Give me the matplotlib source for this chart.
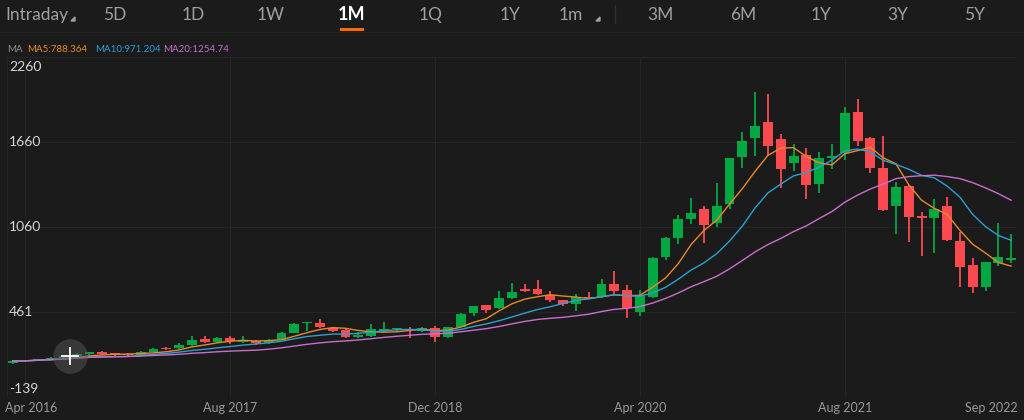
import pandas as pd
import matplotlib
matplotlib.use('Agg')
import matplotlib.pyplot as plt
from matplotlib.patches import Rectangle

# monthly candles, Mar 2016 .. Sep 2022
months = pd.date_range('2016-03-01', periods=79, freq='MS')

opens = [100, 115, 118, 127, 135, 145, 165, 180, 165, 163, 160, 180, 210, 205, 225, 268,
         250, 280, 250, 257, 240, 265, 315, 380, 380, 350, 333, 287, 292, 328, 338, 340,
         330, 350, 283, 358, 455, 507, 486, 562, 620, 620, 583, 545, 518, 570, 568, 660,
         615, 462, 570, 846, 980, 1120, 1190, 1090, 1222, 1552, 1686, 1803, 1680, 1514, 1572, 1366,
         1549, 1580, 1870, 1686, 1478, 1208, 1350, 1140, 1126, 1208, 963, 792, 640, 805, 830]
highs = [120, 122, 132, 140, 155, 168, 182, 188, 172, 168, 184, 207, 215, 240, 293, 290,
         284, 290, 290, 262, 268, 320, 385, 388, 410, 355, 338, 318, 375, 392, 350, 356,
         352, 360, 358, 452, 504, 510, 606, 662, 658, 690, 606, 548, 590, 600, 691, 750,
         650, 615, 850, 990, 1145, 1262, 1210, 1368, 1550, 1728, 2011, 1999, 1716, 1644, 1616, 1587,
         1646, 1905, 1964, 1695, 1705, 1380, 1356, 1168, 1258, 1270, 1027, 839, 812, 1086, 1008]
lows = [95, 110, 115, 122, 130, 140, 160, 158, 152, 150, 156, 176, 196, 200, 220, 240,
        245, 232, 245, 228, 235, 260, 310, 325, 350, 322, 280, 278, 285, 320, 320, 276,
        318, 250, 278, 352, 432, 455, 480, 550, 605, 580, 530, 505, 465, 550, 560, 590,
        415, 432, 560, 830, 940, 1085, 950, 1060, 1190, 1479, 1561, 1568, 1333, 1457, 1258, 1298,
        1467, 1533, 1634, 1444, 1175, 1010, 952, 855, 874, 960, 634, 596, 610, 785, 808]
closes = [115, 118, 128, 137, 150, 162, 178, 162, 160, 158, 180, 203, 200, 225, 265, 247,
          280, 255, 258, 240, 262, 310, 378, 385, 352, 327, 287, 300, 338, 340, 340, 333,
          348, 287, 355, 448, 500, 478, 563, 603, 612, 588, 546, 517, 567, 558, 658, 610,
          487, 580, 845, 980, 1120, 1160, 1075, 1208, 1545, 1667, 1773, 1635, 1467, 1561, 1355, 1549,
          1560, 1862, 1670, 1474, 1180, 1345, 1128, 1122, 1185, 968, 780, 640, 812, 850, 842]

y_ticks = [2260, 1660, 1060, 461, -139]
x_tick_labels = {'Apr 2016': 1, 'Aug 2017': 17, 'Dec 2018': 33, 'Apr 2020': 49, 'Aug 2021': 65}
tabs = ['Intraday', '5D', '1D', '1W', '1M', '1Q', '1Y', '1m', '3M', '6M', '1Y', '3Y', '5Y']
tab_x = [5, 115, 193, 271, 352, 431, 510, 571, 661, 743, 821, 898, 975]
ma_texts = ['MA5:788.364', 'MA10:971.204', 'MA20:1254.74']

BG = '#1b1b1b'
UP = '#03a843'
DOWN = '#fb4a4f'
MA_COLORS = ['#e8892a', '#2b9fd2', '#c96ecf']
GRID = '#252525'

df = pd.DataFrame({'open': opens, 'high': highs, 'low': lows, 'close': closes}, index=months)
ma5 = df['close'].rolling(5, min_periods=1).mean()
ma10 = df['close'].rolling(10, min_periods=1).mean()
ma20 = df['close'].rolling(20, min_periods=1).mean()

fig = plt.figure(figsize=(10.24, 4.2), dpi=100, facecolor=BG)
W, H = 1024, 420

ax = fig.add_axes([7 / W, 23 / H, 1010 / W, 340 / H], facecolor=BG)
ax.set_xlim(-0.445, 78.46)
ax.set_ylim(-139, 2260)
for s in ax.spines.values():
    s.set_visible(False)
ax.set_xticks([])
ax.set_yticks([])

for v in y_ticks:
    ax.axhline(v, color=GRID, lw=0.8, zorder=0)
for pos in x_tick_labels.values():
    ax.axvline(pos, color=GRID, lw=0.8, zorder=0)
ax.axvline(-0.445, color=GRID, lw=0.8, zorder=0)
ax.axvline(78.46, color=GRID, lw=0.8, zorder=0)

x = range(len(df))
colors = [UP if c >= o else DOWN for o, c in zip(df['open'], df['close'])]
ax.vlines(x, df['low'], df['high'], colors=colors, lw=1.3, zorder=2)
bottoms = df[['open', 'close']].min(axis=1)
heights = (df['close'] - df['open']).abs().clip(lower=9)
ax.bar(x, heights, bottom=bottoms, width=0.78, color=colors, zorder=3)

ax.plot(x, ma5, color=MA_COLORS[0], lw=1.0, zorder=4)
ax.plot(x, ma10, color=MA_COLORS[1], lw=1.0, zorder=4)
ax.plot(x, ma20, color=MA_COLORS[2], lw=1.0, zorder=4)

# cursor marker
ax.scatter([4.45], [152], s=620, color='#555555', alpha=0.5, zorder=5, lw=0)
ax.scatter([4.45], [152], s=160, marker='+', color='white', lw=1.3, zorder=6)

# y labels
for v in y_ticks:
    yv, va = v, 'center'
    if v == y_ticks[0]:
        yv, va = v - 25, 'top'
    elif v == y_ticks[-1]:
        yv, va = v + 15, 'bottom'
    ax.text(-0.28, yv, str(v), color='#d6d6d6', fontsize=10, ha='left', va=va,
            family='Lato', zorder=7)

# overlay in pixel coords
ov = fig.add_axes([0, 0, 1, 1], facecolor='none')
ov.set_xlim(0, W)
ov.set_ylim(H, 0)
ov.axis('off')

for name, xp in x_tick_labels.items():
    px = 12.7 + 12.8 * xp
    ha = 'center'
    if name == 'Apr 2016':
        px, ha = 5, 'left'
    ov.text(px, 408, name, color='#9a9a9a', fontsize=9, ha=ha, va='center', family='Lato')
ov.text(1018, 408, 'Sep 2022', color='#9a9a9a', fontsize=9, ha='right', va='center', family='Lato')

for i, (t, xp) in enumerate(zip(tabs, tab_x)):
    if t == '1M':
        ov.text(xp, 15, t, color='white', fontsize=13, ha='center', va='center',
                family='Lato', fontweight='bold')
    elif i == 0:
        ov.text(xp, 15, t, color='#a0a0a0', fontsize=12.5, ha='left', va='center', family='Lato')
    else:
        ov.text(xp, 15, t, color='#a0a0a0', fontsize=12.5, ha='center', va='center', family='Lato')
ov.fill([71, 75, 75], [21, 17, 21], color='#a0a0a0')
ov.fill([596, 600, 600], [21, 17, 21], color='#a0a0a0')
ov.plot([615, 615], [5, 23], color='#2e2e2e', lw=1)
ov.plot([0, W], [32, 32], color='#232323', lw=1)
ov.add_patch(Rectangle((340, 28), 24, 3, color='#ff6a00', lw=0))

ov.text(7, 49, 'MA', color='#8c8c8c', fontsize=7, ha='left', va='center', family='Lato')
ma_x = [27, 95, 163]
for t, xp, c in zip(ma_texts, ma_x, MA_COLORS):
    ov.text(xp, 49, t, color=c, fontsize=7, ha='left', va='center', family='Lato')

fig.savefig('out.png', dpi=100, facecolor=BG)
